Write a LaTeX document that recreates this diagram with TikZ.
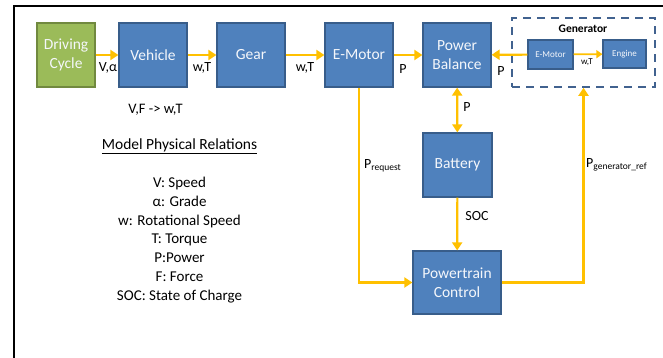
\documentclass[tikz,border=0pt]{standalone}
\usepackage{fontspec}
\setmainfont{Carlito}
\usepackage{xcolor}
\usetikzlibrary{arrows.meta,positioning,calc}
\definecolor{blockblue}{HTML}{4F81BD}
\definecolor{blockedge}{HTML}{385D8A}
\definecolor{cyclegreen}{HTML}{9BBB59}
\definecolor{cycleedge}{HTML}{71893F}
\definecolor{flowgold}{HTML}{FFC000}
\definecolor{genedge}{HTML}{41628F}

\begin{document}
\begin{tikzpicture}[x=1pt,y=-1pt,
    block/.style={draw=blockedge, fill=blockblue, line width=1.2pt, text=white!94!blockblue,
        align=center, inner sep=0pt, minimum width=68pt, minimum height=64pt,
        font=\fontsize{15.5}{18.5}\selectfont},
    cyclebox/.style={block, draw=cycleedge, fill=cyclegreen, minimum width=58pt},
    smallblock/.style={block, minimum width=45pt, minimum height=29pt, font=\fontsize{9}{11}\selectfont},
    flow/.style={draw=flowgold, line width=2.2pt, -{Triangle[length=8pt,width=10pt]}},
    lbl/.style={inner sep=0pt, font=\fontsize{14}{16}\selectfont}]
    \useasboundingbox (0,0) rectangle (663,358);
    \draw[line width=1.6pt] (14,358) -- (14,6) -- (663,6);

    \node[cyclebox] (drive) at (66,55) {Driving\\Cycle};
    \node[block] (vehicle) at (153,55) {Vehicle};
    \node[block] (gear) at (251,55) {Gear};
    \node[block] (emotor) at (359,55) {E-Motor};
    \node[block] (balance) at (457,55) {Power\\Balance};
    \node[draw=genedge, dashed, dash pattern=on 8pt off 6pt, line width=1.6pt,
        minimum width=143pt, minimum height=69pt, inner sep=0pt] (gen) at (583.5,52.5) {};
    \node[font=\fontsize{11.5}{13}\selectfont\bfseries, inner sep=0pt] (genlabel) at (583,29) {Generator};
    \node[smallblock] (gmotor) at (550.5,54.5) {E-Motor};
    \node[smallblock, minimum width=43pt, minimum height=28pt] (engine) at (624.5,54) {Engine};
    \node[block, minimum width=69pt] (battery) at (457.5,165) {Battery};
    \node[block, minimum width=88pt, minimum height=63pt] (control) at (457,282.5) {Powertrain\\Control};

    \draw[flow] (drive) -- (vehicle);
    \draw[flow] (vehicle) -- (gear);
    \draw[flow] (gear) -- (emotor);
    \draw[flow] (emotor) -- (balance);
    \draw[flow] (gmotor) -- (balance);
    \draw[flow, line width=1.8pt, -{Triangle[length=6pt,width=8pt]}] (gmotor) -- (engine);
    \draw[flow, {Triangle[length=8pt,width=10pt]}-{Triangle[length=8pt,width=10pt]}] (balance) -- (battery);
    \draw[flow] (battery) -- (control);
    \draw[flow] (emotor.south) |- (control.west);
    \draw[flow] (control.east) -| (gen.south);

    \node[lbl] (lva) at (108,68) {V,α};
    \node[lbl] (lwt1) at (202,68) {w,T};
    \node[lbl] (lwt2) at (305,68) {w,T};
    \node[lbl] (lp1) at (403,69) {P};
    \node[lbl] (lp2) at (501,71) {P};
    \node[lbl, font=\fontsize{9}{11}\selectfont] (lwt3) at (587,62) {w,T};
    \node[lbl] (lp3) at (467,107) {P};
    \node[lbl] (lsoc) at (477,216) {SOC};
    \node[lbl, anchor=west] (lreq) at (364,166) {P\textsubscript{\fontsize{9.5}{11}\selectfont request}};
    \node[lbl, anchor=west] (lref) at (586,165) {P\textsubscript{\fontsize{9.5}{11}\selectfont generator\_ref}};

    \node[lbl, font=\fontsize{14.5}{16}\selectfont] (relation) at (155.5,110) {V,F -> w,T};
    \node[lbl, font=\fontsize{15.5}{18}\selectfont] (modeltitle) at (179.5,146) {\underline{Model Physical Relations}};
    \node[lbl, align=center, font=\fontsize{15}{18.9}\selectfont] (legend) at (179.5,240)
        {V: Speed\\α: Grade\\w: Rotational Speed\\T: Torque\\P:Power\\F: Force\\SOC: State of Charge};
\end{tikzpicture}
\end{document}
